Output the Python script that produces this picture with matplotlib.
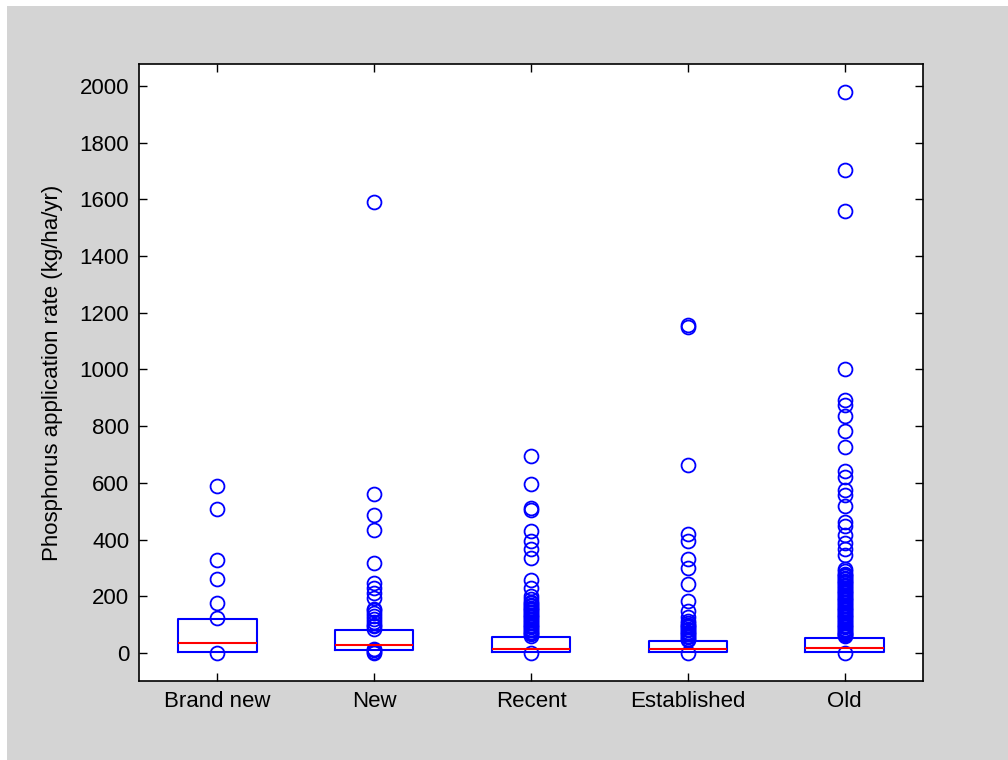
import matplotlib
matplotlib.use("Agg")
import matplotlib.pyplot as plt
from matplotlib.patches import Rectangle

# Farm age groups
groups = ["Brand new", "New", "Recent", "Established", "Old"]

# Box statistics (kg/ha/yr)
q1 = [5, 10, 2, 5, 3]
median = [36, 29, 15, 15, 17]
q3 = [118, 80, 56, 42, 53]

# Points outside the box
out_brand_new = [0, 124, 177, 259, 328, 506, 590]
out_new = [0, 5, 10, 15, 85, 95, 100, 110, 120, 130, 140, 150, 155,
           195, 210, 230, 248, 316, 432, 488, 562, 1590]
out_recent = [0, 60, 65, 70, 75, 80, 85, 90, 95, 100, 105, 110, 115, 120,
              125, 130, 135, 140, 145, 150, 155, 160, 165, 170, 175, 180,
              189, 200, 230, 256, 336, 365, 394, 430, 505, 512, 595, 694]
out_established = [0, 45, 50, 55, 60, 65, 70, 75, 80, 85, 90, 95, 100, 105,
                   113, 125, 148, 183, 244, 300, 330, 394, 421, 664, 1148, 1155]
out_old = [0, 58, 62, 66, 70, 75, 80, 85, 90, 95, 100, 105, 110, 115, 120,
           125, 130, 135, 140, 145, 150, 155, 160, 165, 170, 175, 180, 185,
           190, 195, 200, 205, 210, 215, 220, 225, 230, 235, 240, 245, 250,
           255, 260, 265, 270, 275, 280, 288, 295, 345, 367, 388, 417, 446,
           460, 518, 557, 576, 619, 640, 727, 784, 835, 873, 892, 1000,
           1557, 1702, 1978]
outliers = [out_brand_new, out_new, out_recent, out_established, out_old]

stats = []
for i, g in enumerate(groups):
    stats.append(dict(label=g, med=median[i], q1=q1[i], q3=q3[i],
                      whislo=q1[i], whishi=q3[i], fliers=outliers[i]))

plt.rcParams['font.family'] = ['Liberation Sans', 'DejaVu Sans']

fig = plt.figure(figsize=(10.08, 7.6), dpi=100, facecolor='white')
fig.patches.append(Rectangle((7 / 1008, 0), 1 - 7 / 1008, 1 - 6 / 760,
                             transform=fig.transFigure, facecolor='#d4d4d4',
                             edgecolor='none', zorder=-10))
ax = fig.add_axes([139 / 1008, 79 / 760, 784 / 1008, 617 / 760])

ax.bxp(stats, widths=0.5, showcaps=False,
       boxprops=dict(color='#0000ff', linewidth=1.5),
       medianprops=dict(color='#ff0000', linewidth=1.5),
       whiskerprops=dict(linestyle='none'),
       flierprops=dict(marker='o', markerfacecolor='none',
                       markeredgecolor='#0000ff', markersize=10,
                       markeredgewidth=1.3, linestyle='none'))

ax.set_xlim(0.5, 5.5)
ax.set_ylim(-99, 2077)
ax.set_yticks(range(0, 2001, 200))
ax.set_ylabel('Phosphorus application rate (kg/ha/yr)', fontsize=16, labelpad=12)

ax.tick_params(direction='in', top=True, right=True, length=6, width=1,
               labelsize=16, pad=7)
for s in ax.spines.values():
    s.set_linewidth(1.2)

fig.savefig('out.png', dpi=100, facecolor=fig.get_facecolor())
